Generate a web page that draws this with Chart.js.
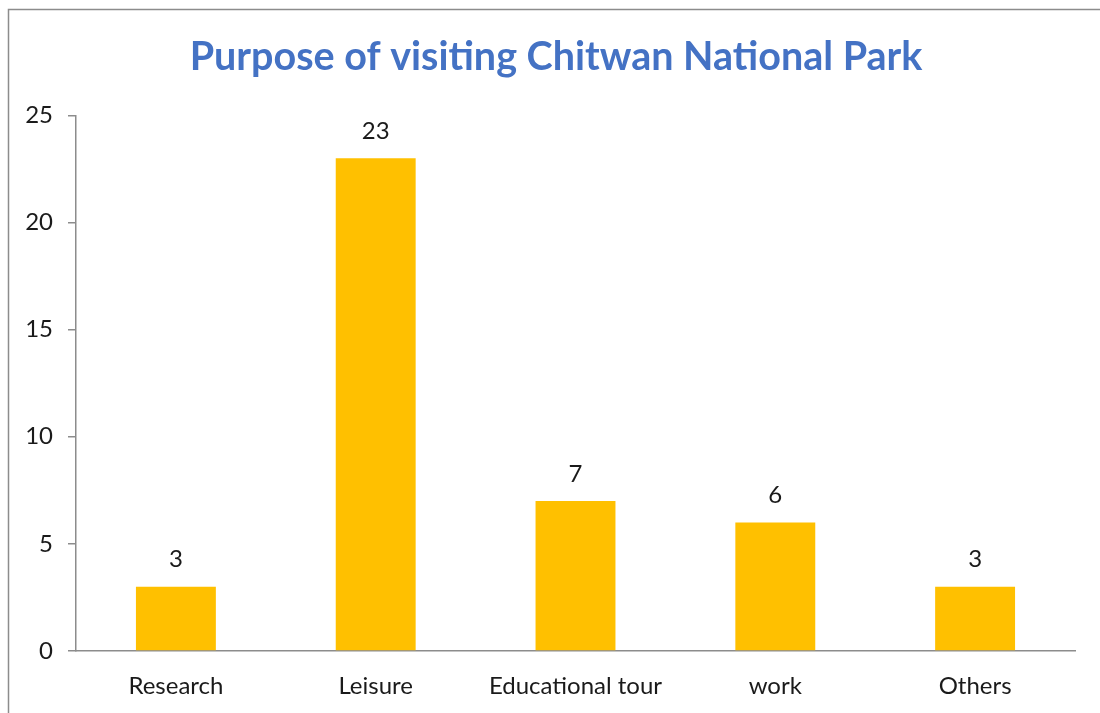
<!DOCTYPE html>
<html>
<head>
<meta charset="utf-8">
<title>Purpose of visiting Chitwan National Park</title>
<script src="https://cdn.jsdelivr.net/npm/chart.js@4/dist/chart.umd.min.js"></script>
<style>
    html, body { margin: 0; padding: 0; background: #fff; }
    #wrap { width: 1100px; height: 713px; position: relative; }
</style>
</head>
<body>
<div id="wrap"><canvas id="purpose-chart"></canvas></div>
<script>
// data
const categories = ['Research', 'Leisure', 'Educational tour', 'work', 'Others'];
const visitors = [3, 23, 7, 6, 3];
const yTicks = [0, 5, 10, 15, 20, 25];

const FONT = 'Lato, "Open Sans", sans-serif';

// outer frame of the chart object (runs off the right and bottom edges)
const framePlugin = {
    id: 'frame',
    beforeDraw(chart) {
        const ctx = chart.ctx;
        ctx.save();
        ctx.strokeStyle = '#8c8c8c';
        ctx.lineWidth = 1.5;
        ctx.strokeRect(8.5, 9.5, 1300, 900);
        ctx.restore();
    }
};

// the original centres its title a little right of the plot centre
const titleShift = {
    id: 'titleShift',
    afterLayout(chart) {
        if (chart.titleBlock) chart.titleBlock.left = 37;
    }
};

// value labels above each bar
const valueLabels = {
    id: 'valueLabels',
    afterDatasetsDraw(chart) {
        const ctx = chart.ctx;
        const meta = chart.getDatasetMeta(0);
        ctx.save();
        ctx.font = '24px ' + FONT;
        ctx.fillStyle = '#1a1a1a';
        ctx.textAlign = 'center';
        ctx.textBaseline = 'middle';
        meta.data.forEach((bar, i) => {
            ctx.fillText(String(chart.data.datasets[0].data[i]), bar.x, bar.y - 27);
        });
        ctx.restore();
    }
};

new Chart(document.getElementById('purpose-chart'), {
    type: 'bar',
    data: {
        labels: categories,
        datasets: [{
            data: visitors,
            backgroundColor: '#FFC000',
            borderWidth: 0,
            categoryPercentage: 1,
            barPercentage: 0.4
        }]
    },
    options: {
        responsive: true,
        maintainAspectRatio: false,
        animation: false,
        layout: { padding: { left: 0, right: 25, top: 0, bottom: 0 } },
        plugins: {
            legend: { display: false },
            tooltip: { enabled: false },
            title: {
                display: true,
                text: 'Purpose of visiting Chitwan National Park',
                color: '#4472C4',
                font: { family: FONT, size: 39.5, weight: 'bold' },
                padding: { top: 34, bottom: 34 }
            }
        },
        scales: {
            x: {
                grid: { display: false, drawTicks: false },
                border: { display: true, color: '#8c8c8c', width: 1.5 },
                ticks: {
                    color: '#1a1a1a',
                    padding: 21,
                    font: { family: FONT, size: 24 },
                    maxRotation: 0
                },
                afterFit(scale) { scale.height = 62; }
            },
            y: {
                min: 0,
                max: 25,
                afterBuildTicks(scale) {
                    scale.ticks = yTicks.map(v => ({ value: v }));
                },
                grid: {
                    drawOnChartArea: false,
                    drawTicks: true,
                    tickLength: 8,
                    color: '#8c8c8c',
                    lineWidth: 1.5
                },
                border: { display: true, color: '#8c8c8c', width: 1.5 },
                ticks: {
                    color: '#1a1a1a',
                    padding: 15,
                    font: { family: FONT, size: 24 }
                },
                afterFit(scale) { scale.width = 76; }
            }
        }
    },
    plugins: [framePlugin, titleShift, valueLabels]
});
</script>
</body>
</html>
